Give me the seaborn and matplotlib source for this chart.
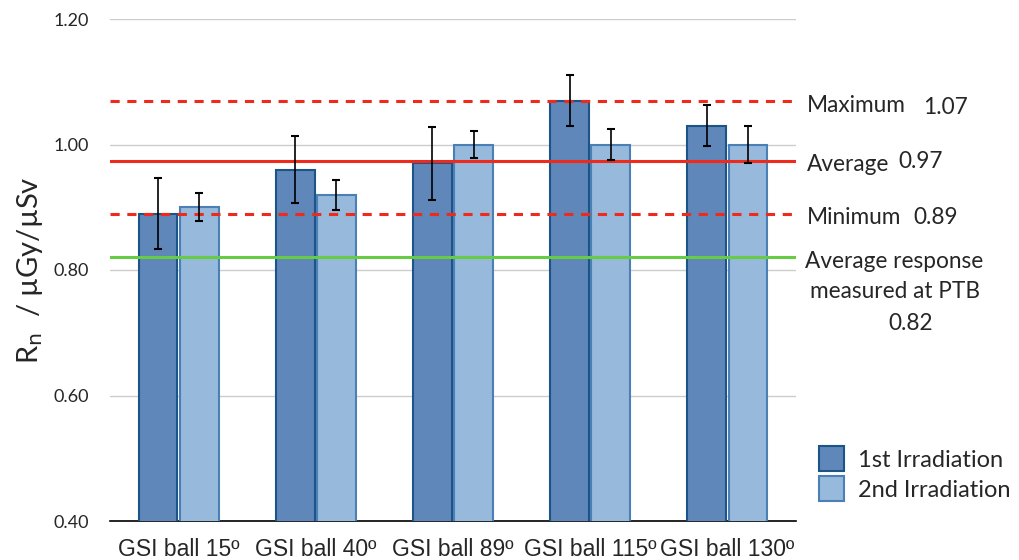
import pandas as pd
import seaborn as sns
import matplotlib.pyplot as plt
from matplotlib.patches import Patch

# values
balls = ['GSI ball 15º', 'GSI ball 40º', 'GSI ball 89º', 'GSI ball 115º', 'GSI ball 130º']
first = [0.89, 0.96, 0.97, 1.07, 1.03]
second = [0.90, 0.92, 1.00, 1.00, 1.00]
first_err = [0.057, 0.054, 0.058, 0.040, 0.033]
second_err = [0.022, 0.024, 0.022, 0.025, 0.030]
runs = ['1st Irradiation', '2nd Irradiation']

ref_max = 1.07
ref_avg = 0.974
ref_min = 0.89
ref_ptb = 0.82

df = pd.DataFrame({
    'ball': balls * 2,
    'run': [runs[0]] * len(balls) + [runs[1]] * len(balls),
    'R': first + second,
})

fills = ['#5f87ba', '#96b9dc']
edges = ['#1b5488', '#4a80b6']

sns.set_style('white')
plt.rcParams['font.family'] = ['Lato', 'DejaVu Sans']

W, H = 1019, 560
fig = plt.figure(figsize=(W / 100, H / 100), dpi=100)
ax = fig.add_axes([110 / W, 39 / H, 686 / W, 502 / H])

sns.barplot(data=df, x='ball', y='R', hue='run', palette=fills, saturation=1,
            width=0.6, gap=0.06, ax=ax, legend=False, zorder=3)

errs = [first_err, second_err]
bar_groups = list(ax.containers)
for i, cont in enumerate(bar_groups):
    for j, bar in enumerate(cont.patches):
        bar.set_edgecolor(edges[i])
        bar.set_linewidth(1.5)
        cx = bar.get_x() + bar.get_width() / 2
        ax.errorbar(cx, bar.get_height(), yerr=errs[i][j], color='black', lw=1.2,
                    capsize=3, capthick=1.5, zorder=6)

ax.axhline(ref_max, color='#ee2a1c', lw=2.2, ls=(0, (3, 2.5)), zorder=5)
ax.axhline(ref_avg, color='#ee2a1c', lw=2.2, zorder=5)
ax.axhline(ref_min, color='#ee2a1c', lw=2.2, ls=(0, (3, 2.5)), zorder=5)
ax.axhline(ref_ptb, color='#66cc44', lw=2.2, zorder=5)

ax.set_ylim(0.4, 1.2)
ax.set_xlim(-0.5, 4.5)
ax.set_yticks([0.4, 0.6, 0.8, 1.0, 1.2])
ax.set_yticklabels(['0.40', '0.60', '0.80', '1.00', '1.20'], fontsize=13)
ax.yaxis.grid(True, color='#cccccc', lw=1)
ax.set_axisbelow(True)
for s in ['left', 'right', 'top']:
    ax.spines[s].set_visible(False)
ax.spines['bottom'].set_color('black')
ax.spines['bottom'].set_linewidth(1.2)
ax.tick_params(axis='y', length=0, pad=15)
ax.tick_params(axis='x', length=0, pad=12)
for lab in ax.get_xticklabels():
    lab.set_fontfamily(['Liberation Sans', 'DejaVu Sans'])
    lab.set_fontsize(16.5)
ax.set_xlabel('')
ax.set_ylabel('R$_{\\rm n}$  / µGy/µSv', fontsize=21, labelpad=6)


def px_text(x, y, s, ha='left'):
    fig.text(x / W, 1 - y / H, s, fontsize=16.3, ha=ha, va='center')


px_text(807, 105, 'Maximum')
px_text(923, 107, '1.07')
px_text(807, 164, 'Average')
px_text(898, 161, '0.97')
px_text(807, 217, 'Minimum')
px_text(913, 217, '0.89')
px_text(805, 262, 'Average response')
px_text(810, 291, 'measured at PTB')
px_text(888, 323, '0.82')

handles = [Patch(facecolor=fills[k], edgecolor=edges[k], lw=1.5) for k in range(2)]
fig.legend(handles, runs, loc='upper left', bbox_to_anchor=(798 / W, 1 - 425 / H),
           frameon=False, fontsize=17, handlelength=1.05, handleheight=1.25,
           handletextpad=0.6, labelspacing=0.22)

fig.savefig('out.png', dpi=100)
